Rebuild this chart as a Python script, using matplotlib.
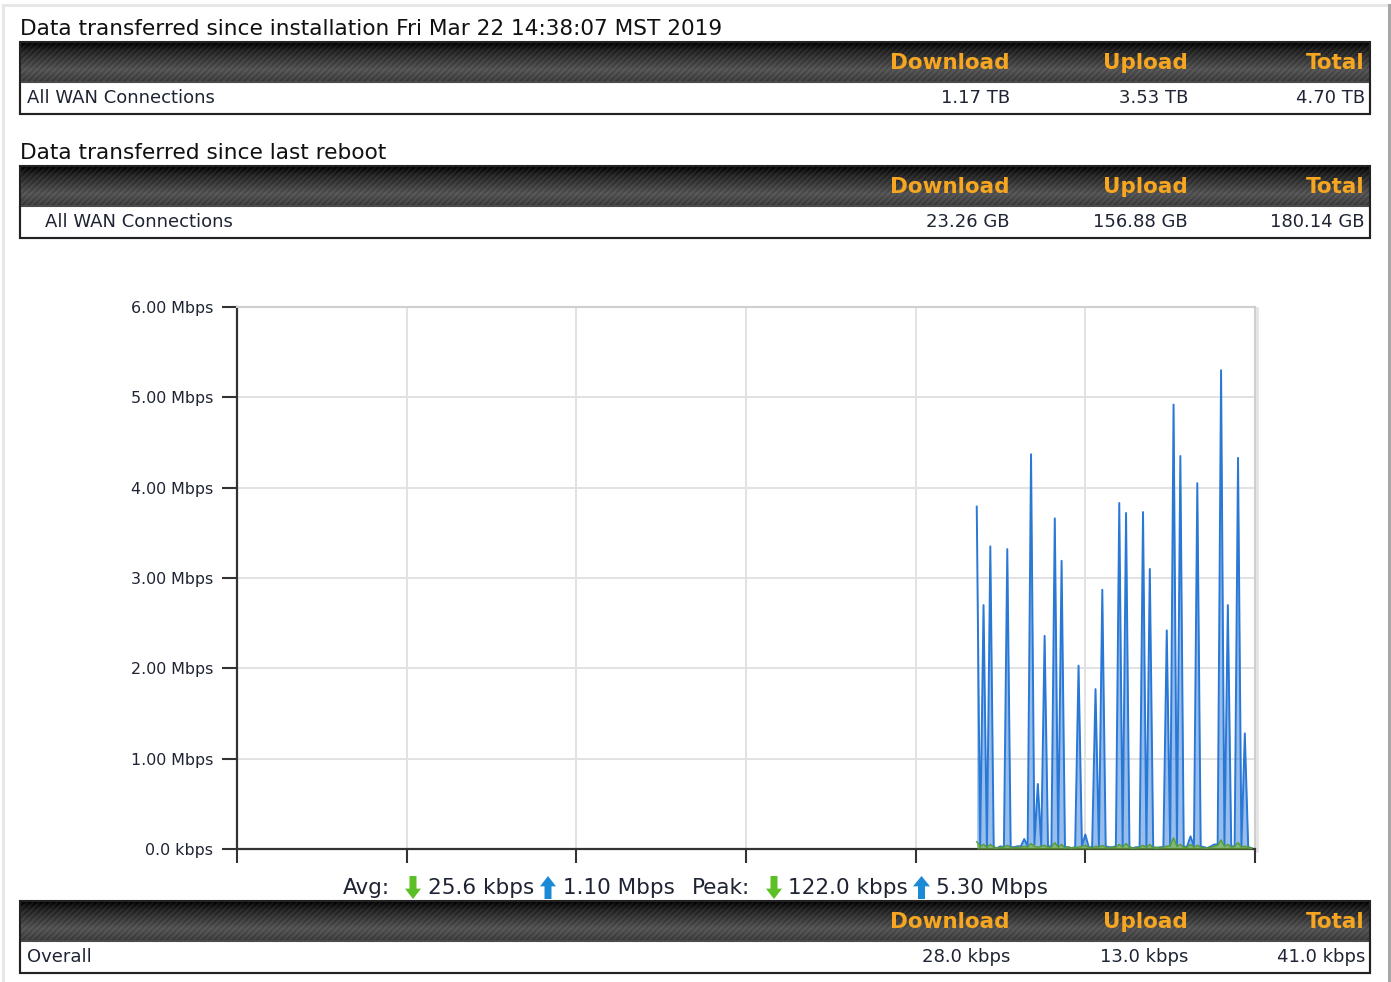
import numpy as np
import matplotlib.pyplot as plt
from matplotlib.patches import Rectangle, Polygon

W, H = 1391, 982

# --- table contents ---
title_install = "Data transferred since installation Fri Mar 22 14:38:07 MST 2019"
title_reboot = "Data transferred since last reboot"
columns = ["Download", "Upload", "Total"]
install_row = ["All WAN Connections", "1.17 TB", "3.53 TB", "4.70 TB"]
reboot_row = ["All WAN Connections", "23.26 GB", "156.88 GB", "180.14 GB"]
overall_row = ["Overall", "28.0 kbps", "13.0 kbps", "41.0 kbps"]

# --- chart data (Mbps per sample slot) ---
y_ticks = [0, 1, 2, 3, 4, 5, 6]
y_labels = ["0.0 kbps", "1.00 Mbps", "2.00 Mbps", "3.00 Mbps",
            "4.00 Mbps", "5.00 Mbps", "6.00 Mbps"]
n_slots = 300
first_slot = 218
upload = [3.79, 0.02, 2.70, 0.02, 3.35, 0.02, 0.01, 0.03, 0.02, 3.32,
          0.02, 0.02, 0.03, 0.03, 0.11, 0.03, 4.37, 0.05, 0.72, 0.04,
          2.36, 0.03, 0.03, 3.66, 0.04, 3.19, 0.02, 0.02, 0.01, 0.02,
          2.03, 0.03, 0.16, 0.02, 0.02, 1.77, 0.03, 2.87, 0.03, 0.02,
          0.02, 0.03, 3.83, 0.03, 3.72, 0.02, 0.01, 0.02, 0.02, 3.73,
          0.02, 3.10, 0.02, 0.01, 0.02, 0.02, 2.42, 0.03, 4.92, 0.03,
          4.35, 0.02, 0.03, 0.14, 0.03, 4.05, 0.03, 0.02, 0.01, 0.03,
          0.05, 0.05, 5.30, 0.04, 2.70, 0.03, 0.03, 4.33, 0.03, 1.28,
          0.02, 0.01]
download = [0.08, 0.03, 0.05, 0.02, 0.05, 0.02, 0.01, 0.02, 0.02, 0.04,
            0.02, 0.01, 0.02, 0.02, 0.03, 0.02, 0.06, 0.03, 0.02, 0.03,
            0.04, 0.02, 0.02, 0.07, 0.02, 0.05, 0.01, 0.02, 0.01, 0.02,
            0.02, 0.03, 0.04, 0.02, 0.01, 0.03, 0.02, 0.04, 0.02, 0.01,
            0.02, 0.02, 0.05, 0.02, 0.06, 0.02, 0.01, 0.01, 0.02, 0.04,
            0.02, 0.05, 0.01, 0.02, 0.01, 0.02, 0.03, 0.04, 0.122, 0.03,
            0.05, 0.02, 0.02, 0.05, 0.02, 0.04, 0.02, 0.01, 0.01, 0.02,
            0.03, 0.04, 0.10, 0.03, 0.05, 0.02, 0.03, 0.07, 0.02, 0.03,
            0.02, 0.01]
avg_down, avg_up = "25.6 kbps", "1.10 Mbps"
peak_down = f"{max(download) * 1000:.1f} kbps"
peak_up = f"{max(upload):.2f} Mbps"

TXT = "#1e2433"
ORANGE = "#f6a620"
FONT = "DejaVu Sans"

fig = plt.figure(figsize=(W / 100, H / 100), dpi=100)
page = fig.add_axes([0, 0, 1, 1])
page.set_xlim(0, W)
page.set_ylim(H, 0)
page.axis("off")


def header_bar(top, bottom, left=20, right=1370):
    h, w = int(bottom - top), int(right - left)
    yy, xx = np.mgrid[0:h, 0:w]
    t = yy / (h - 1)
    shade = np.interp(t, [0, 0.2, 0.7, 1], [0.02, 0.14, 0.33, 0.24])
    stripes = 0.035 * np.sin(2 * np.pi * (xx + yy) / 6.0)
    img = np.clip(shade + stripes, 0, 1)
    page.imshow(img, cmap="gray", vmin=0, vmax=1, aspect="auto",
                extent=(left, right, bottom, top), interpolation="bilinear",
                zorder=1)
    for label, xr in zip(columns, [1010, 1188, 1365]):
        page.text(xr, (top + bottom) / 2 + 1, label, ha="right", va="center",
                  color=ORANGE, fontsize=15.5, fontweight="bold", family=FONT,
                  zorder=3)


def table(title, row, top, indent=27):
    if title:
        page.text(20, top - 13, title, ha="left", va="center", color="#111",
                  fontsize=15.6, family=FONT)
    header_bar(top, top + 40)
    page.add_patch(Rectangle((20, top + 40), 1350, 32, fc="white",
                             ec="#4a4a4a", lw=1.5, zorder=2))
    page.add_patch(Rectangle((20, top), 1350, 72, fc="none",
                             ec="#222", lw=1.5, zorder=3))
    cy = top + 56
    page.text(indent, cy, row[0], ha="left", va="center", color=TXT,
              fontsize=13, family=FONT, zorder=3)
    for val, xr in zip(row[1:], [1010, 1188, 1365]):
        page.text(xr, cy, val, ha="right", va="center", color=TXT,
                  fontsize=13, family=FONT, zorder=3)


# page frame
page.plot([3, 3], [5, H], color="#e6e6e6", lw=2)
page.plot([3, 1388], [5, 5], color="#e6e6e6", lw=2)
page.plot([1388.5, 1388.5], [5, H], color="#a8a8a8", lw=2.2)

table(title_install, install_row, 42)
table(title_reboot, reboot_row, 166, indent=45)
table(None, overall_row, 901)

# --- throughput chart ---
ax = fig.add_axes([237 / W, (H - 849) / H, (1255 - 237) / W, (849 - 307) / H])
x = np.arange(first_slot, first_slot + len(upload))
ax.fill_between(x, upload, color="#2f7cd8", alpha=0.5, lw=0, zorder=2)
ax.plot(x, upload, color="#2a78d6", lw=1.4, zorder=3)
ax.fill_between(x, download, color="#74b52c", alpha=0.6, lw=0, zorder=4)
ax.plot(x, download, color="#5b9d3c", lw=1.1, zorder=5)

ax.set_xlim(0, n_slots)
ax.set_ylim(0, 6)
ax.set_yticks(y_ticks)
ax.set_yticklabels(y_labels, fontsize=11.4, color=TXT, family=FONT)
ax.set_xticks(np.arange(0, n_slots + 1, 50))
ax.set_xticklabels([])
ax.tick_params(axis="y", direction="out", length=11, width=1.5,
               color="#333", pad=6)
ax.tick_params(axis="x", direction="out", length=10, width=1.5, color="#333")
ax.grid(True, color="#e2e2e2", lw=1.4, zorder=0)
ax.set_axisbelow(True)
for side in ["left", "bottom"]:
    ax.spines[side].set_color("#333")
    ax.spines[side].set_linewidth(1.6)
for side in ["top", "right"]:
    ax.spines[side].set_color("#cfcfcf")
    ax.spines[side].set_linewidth(1.5)
page.plot([1257, 1257], [308, 851], color="#e4e4e4", lw=2, zorder=0)

# legend
page.add_patch(Rectangle((255, 313), 25, 20, fc="#8cbb28", ec="#a8cc70", lw=1))
page.add_patch(Rectangle((255, 337), 25, 20, fc="#2f7ed8", ec="#7fb0e8", lw=1))
page.text(290, 324, "Download", ha="left", va="center", fontsize=13,
          color=TXT, family=FONT)
page.text(290, 348, "Upload", ha="left", va="center", fontsize=13,
          color=TXT, family=FONT)


def arrow(x0, x1, y0, y1, color, down):
    cx = (x0 + x1) / 2
    if down:
        yh = y0 + 0.55 * (y1 - y0)
        pts = [(cx - 3.5, y0), (cx + 3.5, y0), (cx + 3.5, yh), (x1, yh),
               (cx, y1), (x0, yh), (cx - 3.5, yh)]
    else:
        yh = y1 - 0.55 * (y1 - y0)
        pts = [(cx - 3.5, y1), (cx + 3.5, y1), (cx + 3.5, yh), (x1, yh),
               (cx, y0), (x0, yh), (cx - 3.5, yh)]
    page.add_patch(Polygon(pts, closed=True, fc=color, ec="none", zorder=3))


# averages and peaks line
sy = 888
stat_parts = [(343, "Avg:"), (428, avg_down), (563, avg_up),
              (692, "Peak:"), (788, peak_down), (936, peak_up)]
for xl, s in stat_parts:
    page.text(xl, sy, s, ha="left", va="center", fontsize=15.5, color=TXT,
              family=FONT)
arrow(405, 421, 876, 899, "#5cbf25", True)
arrow(540, 556, 876, 899, "#1a8ad6", False)
arrow(766, 782, 876, 899, "#5cbf25", True)
arrow(913, 930, 876, 899, "#1a8ad6", False)

fig.savefig("out.png", dpi=100, facecolor="white")
